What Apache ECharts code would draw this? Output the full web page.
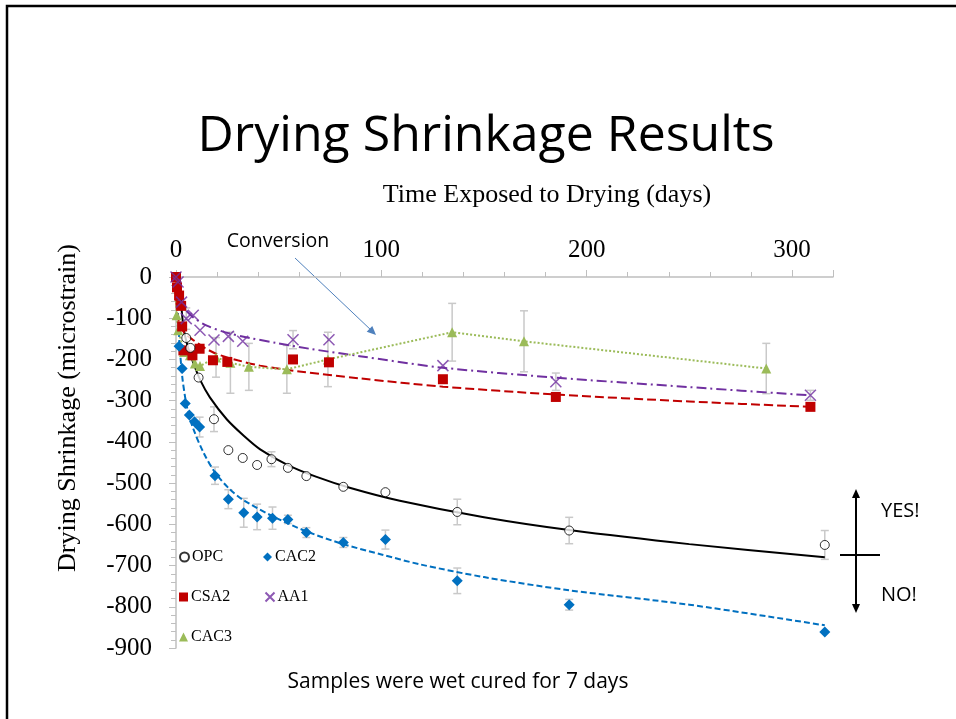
<!DOCTYPE html>
<html>
<head>
<meta charset="utf-8">
<script src="https://cdn.jsdelivr.net/npm/echarts@6/dist/echarts.min.js"></script>
<style>
  html, body { margin: 0; padding: 0; background: #fff; }
  #chart { width: 956px; height: 719px; }
</style>
</head>
<body>
<div id="chart"></div>
<script>
// measured points (days, microstrain, error bar half-height)
const opcDays = [5, 7, 11, 18.5, 25.5, 32.5, 39.5, 46.5, 54.5, 63.5, 81.5, 102, 137, 191.5, 316];
const opcVals = [-148, -172, -244, -345, -420, -439, -456, -442, -463, -483, -509, -522, -570, -615, -650];
const opcErr  = [0, 0, 0, 30, 0, 0, 0, 18, 0, 0, 0, 0, 31, 32, 35];

const cac2Days = [1.5, 3, 4.5, 6.5, 9, 11.5, 19, 25.5, 33, 39.5, 47, 54.5, 63.5, 81.5, 102, 137, 191.5, 316];
const cac2Vals = [-168, -222, -307, -335, -351, -364, -482, -539, -572, -582, -585, -588, -620, -644, -637, -737, -795, -861];
const cac2Err  = [0, 0, 0, 0, 0, 24, 21, 23, 35, 31, 27, 10, 12, 12, 23, 31, 13, 0];

const csa2Days = [0, 0.5, 1.5, 2.5, 3, 3.6, 8, 11.5, 18, 25, 57, 74.5, 130, 185, 309];
const csa2Vals = [0, -25, -45, -70, -120, -178, -190, -174, -202, -206, -200, -207, -248, -291, -315];
const csa2Err  = [0, 0, 0, 0, 0, 0, 0, 0, 0, 0, 0, 0, 0, 0, 0];

const aa1Days = [0, 1, 2.7, 5, 8.4, 11.7, 18.5, 25.5, 32.5, 57, 74.5, 130, 185, 309];
const aa1Vals = [0, -12, -61, -101, -93, -129, -153, -144, -156, -152, -152, -215, -254, -287];
const aa1Err  = [0, 0, 0, 26, 0, 0, 0, 0, 0, 22, 0, 0, 21, 12];

const cac3Days = [0, 0.3, 1.1, 3.9, 6.8, 9.2, 11.7, 19.5, 26.5, 35.5, 54, 74, 134.5, 169.5, 287.5];
const cac3Vals = [0, -93, -129, -182, -190, -210, -216, -195, -208, -218, -224, -200, -134, -156, -222];
const cac3Err  = [0, 0, 0, 0, 0, 0, 0, 48, 74, 57, 58, 66, 70, 74, 61];

// trend lines
const opcTrendDays = [1.5, 2.2, 3.6, 5.5, 8.4, 12, 16.5, 24.7, 33, 41, 54, 68.5, 85, 109, 150, 191.5, 250, 316];
const opcTrendVals = [0, -45, -121, -165, -208, -252, -292, -345, -385, -418, -455, -485, -512, -543, -583, -614, -648, -680];
const cac2TrendDays = [0.5, 1, 1.9, 3, 4.4, 6, 8.4, 13.3, 19, 26, 32.8, 47.3, 63.5, 81.4, 100, 118.7, 150, 191.5, 250, 316];
const cac2TrendVals = [0, -95, -175, -240, -290, -330, -368, -425, -474, -514, -541, -581, -617, -648, -673, -697, -728, -760, -795, -845];
const csa2TrendDays = [0.1, 0.5, 1, 2, 4, 8.4, 14, 20, 30, 41, 60, 89.5, 130, 185, 250, 309];
const csa2TrendVals = [-55, -85, -100, -118, -135, -153, -172, -187, -202, -215, -229, -246, -266, -285, -302, -315];
const aa1TrendDays = [0.5, 1.9, 4, 8.4, 15, 24.6, 36, 48.9, 65, 89.5, 129.8, 184.6, 250, 308.6];
const aa1TrendVals = [-40, -60, -76, -98, -118, -135, -148, -160, -174, -192, -220, -244, -267, -287];

const xTicks = [0, 100, 200, 300];
const yTicks = [0, -100, -200, -300, -400, -500, -600, -700, -800, -900];

const serif = 'Liberation Serif';
const sans = 'Open Sans';
const crossPath = 'path://M0,0L10,10M10,0L0,10';

function pairs(xs, ys) {
  return xs.map((x, i) => [x, ys[i]]);
}

function errData(xs, ys, es) {
  let out = [];
  xs.forEach((x, i) => {
    if (es[i] > 0) out.push([x, ys[i], es[i]]);
  });
  return out;
}

function renderErr(params, api) {
  let x = api.value(0), y = api.value(1), e = api.value(2);
  let hi = api.coord([x, y + e]);
  let lo = api.coord([x, y - e]);
  let w = 4;
  let st = {stroke: '#c9c9c9', lineWidth: 1.5};
  return {
    type: 'group',
    children: [
      {type: 'line', shape: {x1: hi[0], y1: hi[1], x2: lo[0], y2: lo[1]}, style: st},
      {type: 'line', shape: {x1: hi[0] - w, y1: hi[1], x2: hi[0] + w, y2: hi[1]}, style: st},
      {type: 'line', shape: {x1: lo[0] - w, y1: lo[1], x2: lo[0] + w, y2: lo[1]}, style: st}
    ]
  };
}

function errSeries(xs, ys, es) {
  return {
    type: 'custom',
    renderItem: renderErr,
    data: errData(xs, ys, es),
    encode: {x: 0, y: 1},
    z: 1,
    silent: true
  };
}

function trend(xs, ys, color, dash) {
  return {
    type: 'line',
    data: pairs(xs, ys),
    showSymbol: false,
    smooth: 0.3,
    lineStyle: {color: color, width: 2, type: dash},
    z: 2,
    silent: true
  };
}

function legendAt(name, icon, left, top) {
  return {
    data: [{name: name, icon: icon}],
    left: left,
    top: top,
    itemWidth: 9,
    itemHeight: 9,
    itemGap: 0,
    padding: 0,
    textStyle: {fontFamily: serif, fontSize: 16, color: '#000', padding: [0, 0, 0, -2]}
  };
}

let chart = echarts.init(document.getElementById('chart'));

let option = {
  animation: false,
  backgroundColor: '#fff',
  grid: {left: 176, top: 277, right: 123, bottom: 71},
  legend: [
    legendAt('OPC', 'circle', 179, 549),
    legendAt('CAC2', 'diamond', 263, 549),
    legendAt('CSA2', 'rect', 179, 589),
    legendAt('AA1', crossPath, 263, 589),
    legendAt('CAC3', 'triangle', 179, 629)
  ],
  xAxis: {
    type: 'value',
    position: 'top',
    min: 0,
    max: 320,
    interval: 100,
    axisLine: {show: true, lineStyle: {color: '#bfbfbf', width: 1.5}},
    axisTick: {show: true, length: 7, lineStyle: {color: '#bfbfbf'}},
    minorTick: {show: true, splitNumber: 5, length: 5, lineStyle: {color: '#bfbfbf'}},
    splitLine: {show: false},
    axisLabel: {
      fontFamily: serif, fontSize: 25, color: '#000', margin: 14,
      showMaxLabel: false,
      formatter: v => xTicks.includes(v) ? String(v) : ''
    }
  },
  yAxis: {
    type: 'value',
    min: -900,
    max: 0,
    interval: 100,
    axisLine: {show: true, lineStyle: {color: '#bfbfbf', width: 1.5}},
    axisTick: {show: true, length: 7, lineStyle: {color: '#bfbfbf'}},
    minorTick: {show: true, splitNumber: 5, length: 5, lineStyle: {color: '#bfbfbf'}},
    splitLine: {show: false},
    axisLabel: {
      fontFamily: serif, fontSize: 25, color: '#000', margin: 24,
      formatter: v => yTicks.includes(v) ? String(v) : ''
    }
  },
  series: [
    errSeries(opcDays, opcVals, opcErr),
    errSeries(cac2Days, cac2Vals, cac2Err),
    errSeries(csa2Days, csa2Vals, csa2Err),
    errSeries(aa1Days, aa1Vals, aa1Err),
    errSeries(cac3Days, cac3Vals, cac3Err),

    trend(opcTrendDays, opcTrendVals, '#000000', 'solid'),
    trend(cac2TrendDays, cac2TrendVals, '#0070c0', [6, 3]),
    trend(csa2TrendDays, csa2TrendVals, '#c00000', [9, 4]),
    trend(aa1TrendDays, aa1TrendVals, '#7030a0', [10, 4, 2, 4]),

    {
      name: 'CAC3',
      type: 'line',
      data: pairs(cac3Days, cac3Vals),
      symbol: 'triangle',
      symbolSize: 10,
      showSymbol: true,
      itemStyle: {color: '#9bbb59'},
      lineStyle: {color: '#9bbb59', width: 2, type: [2, 2]},
      z: 3
    },
    {
      name: 'CSA2',
      type: 'scatter',
      data: pairs(csa2Days, csa2Vals),
      symbol: 'rect',
      symbolSize: 10,
      itemStyle: {color: '#c00000', opacity: 1},
      z: 4
    },
    {
      name: 'AA1',
      type: 'scatter',
      data: pairs(aa1Days, aa1Vals),
      symbol: crossPath,
      symbolSize: 11,
      itemStyle: {color: 'none', borderColor: '#7030a0', borderWidth: 1.5},
      z: 4
    },
    {
      name: 'OPC',
      type: 'scatter',
      data: pairs(opcDays, opcVals),
      symbol: 'circle',
      symbolSize: 9,
      itemStyle: {color: '#fff', borderColor: '#000', borderWidth: 1},
      z: 5
    },
    {
      name: 'CAC2',
      type: 'scatter',
      data: pairs(cac2Days, cac2Vals),
      symbol: 'diamond',
      symbolSize: 11,
      itemStyle: {color: '#0070c0', opacity: 1},
      z: 5
    }
  ],
  graphic: [
    // slide frame
    {type: 'polyline', shape: {points: [[7, 719], [7, 6], [956, 6]]},
      style: {stroke: '#000', lineWidth: 2.5, fill: null}},
    {type: 'text', x: 486, y: 137, style: {
      text: 'Drying Shrinkage Results', fontFamily: sans, fontSize: 50, fill: '#000',
      align: 'center', verticalAlign: 'middle'}},
    {type: 'text', x: 547, y: 195, style: {
      text: 'Time Exposed to Drying (days)', fontFamily: serif, fontSize: 26, fill: '#000',
      align: 'center', verticalAlign: 'middle'}},
    {type: 'text', x: 68, y: 408, rotation: Math.PI / 2, style: {
      text: 'Drying Shrinkage (microstrain)', fontFamily: serif, fontSize: 26, fill: '#000',
      align: 'center', verticalAlign: 'middle'}},
    // conversion note
    {type: 'text', x: 278, y: 241, style: {
      text: 'Conversion', fontFamily: sans, fontSize: 19.5, fill: '#000',
      align: 'center', verticalAlign: 'middle'}},
    {type: 'line', shape: {x1: 295, y1: 258, x2: 372, y2: 331},
      style: {stroke: '#4f81bd', lineWidth: 1}},
    {type: 'polygon', shape: {points: [[376, 335], [366.7, 331.7], [372.3, 325.9]]},
      style: {fill: '#4f81bd'}},
    // yes / no marker
    {type: 'line', shape: {x1: 856, y1: 496, x2: 856, y2: 607},
      style: {stroke: '#000', lineWidth: 2}},
    {type: 'polygon', shape: {points: [[856, 489], [852, 498], [860, 498]]}, style: {fill: '#000'}},
    {type: 'polygon', shape: {points: [[856, 613], [852, 604], [860, 604]]}, style: {fill: '#000'}},
    {type: 'line', shape: {x1: 840, y1: 555, x2: 880, y2: 555},
      style: {stroke: '#000', lineWidth: 2}},
    {type: 'text', x: 881, y: 511, style: {
      text: 'YES!', fontFamily: sans, fontSize: 20, fill: '#000', verticalAlign: 'middle'}},
    {type: 'text', x: 881, y: 595, style: {
      text: 'NO!', fontFamily: sans, fontSize: 20, fill: '#000', verticalAlign: 'middle'}},
    {type: 'text', x: 458, y: 682, style: {
      text: 'Samples were wet cured for 7 days', fontFamily: sans, fontSize: 21, fill: '#000',
      align: 'center', verticalAlign: 'middle'}}
  ]
};

chart.setOption(option);
</script>
</body>
</html>
